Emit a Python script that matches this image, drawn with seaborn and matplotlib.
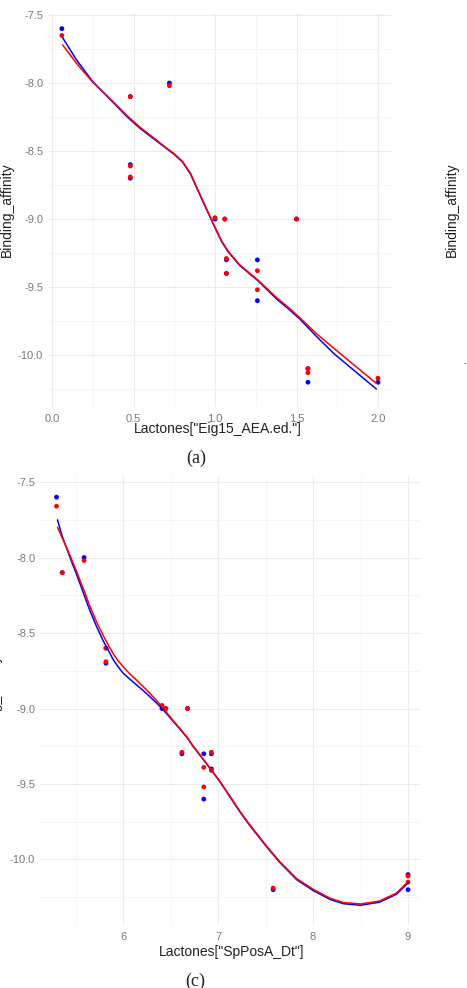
import pandas as pd
import matplotlib
matplotlib.use("Agg")
import matplotlib.pyplot as plt
from matplotlib.ticker import MultipleLocator, FormatStrFormatter
import seaborn as sns

# panel (a): Lactones["Eig15_AEA.ed."]
eig_x = [0.06, 0.48, 0.48, 0.48, 0.72, 1.0, 1.06, 1.07, 1.07, 1.26, 1.26, 1.5, 1.57, 1.57, 2.0]
eig_blue = [-7.6, -8.1, -8.6, -8.7, -8.0, -9.0, -9.0, -9.3, -9.4, -9.3, -9.6, -9.0, -10.1, -10.2, -10.2]
eig_red = [-7.65, -8.1, -8.61, -8.69, -8.02, -8.99, -9.0, -9.29, -9.4, -9.38, -9.52, -9.0, -10.1, -10.13, -10.17]
# smoothed curves
eig_fit_x = [0.065, 0.15, 0.25, 0.36, 0.46, 0.54, 0.62, 0.7, 0.75, 0.8, 0.85, 0.91, 0.95, 1.0, 1.04,
             1.08, 1.15, 1.2, 1.26, 1.38, 1.45, 1.52, 1.62, 1.73, 1.86, 1.99]
eig_fit_blue = [-7.667, -7.83, -7.99, -8.125, -8.248, -8.333, -8.407, -8.48, -8.525, -8.58, -8.67, -8.83,
                -8.934, -9.065, -9.165, -9.24, -9.34, -9.39, -9.45, -9.59, -9.66, -9.735, -9.86, -9.99,
                -10.12, -10.25]
eig_fit_red = [-7.72, -7.855, -7.995, -8.12, -8.24, -8.325, -8.4, -8.476, -8.52, -8.575, -8.665, -8.825,
               -8.93, -9.06, -9.16, -9.235, -9.335, -9.385, -9.445, -9.58, -9.65, -9.725, -9.84, -9.951,
               -10.08, -10.208]

# panel (c): Lactones["SpPosA_Dt"]
sp_x = [5.3, 5.36, 5.59, 5.82, 5.82, 6.41, 6.45, 6.62, 6.68, 6.85, 6.85, 6.93, 6.93, 7.58, 9.0, 9.0]
sp_blue = [-7.6, -8.1, -8.0, -8.6, -8.7, -9.0, -9.0, -9.3, -9.0, -9.3, -9.6, -9.3, -9.4, -10.2, -10.1, -10.2]
sp_red = [-7.66, -8.1, -8.02, -8.6, -8.69, -8.98, -9.0, -9.29, -9.0, -9.39, -9.52, -9.29, -9.41, -10.19, -10.11, -10.15]
sp_fit_x = [5.31, 5.36, 5.41, 5.46, 5.51, 5.58, 5.65, 5.72, 5.79, 5.85, 5.9, 5.95, 6.0, 6.07, 6.14,
            6.21, 6.28, 6.35, 6.41, 6.47, 6.53, 6.6, 6.67, 6.74, 6.81, 6.92, 7.02, 7.13, 7.23, 7.34,
            7.51, 7.65, 7.83, 8.0, 8.18, 8.32, 8.5, 8.7, 8.88, 9.0]
sp_fit_blue = [-7.75, -7.86, -7.945, -8.03, -8.11, -8.23, -8.35, -8.455, -8.55, -8.62, -8.68, -8.725,
               -8.765, -8.805, -8.843, -8.88, -8.92, -8.962, -9.0, -9.042, -9.087, -9.137, -9.19, -9.253,
               -9.31, -9.4, -9.485, -9.59, -9.685, -9.78, -9.915, -10.02, -10.135, -10.205, -10.265,
               -10.293, -10.303, -10.283, -10.23, -10.155]
sp_fit_red = [-7.8, -7.87, -7.94, -8.015, -8.09, -8.205, -8.32, -8.425, -8.515, -8.585, -8.64, -8.685,
              -8.722, -8.77, -8.81, -8.853, -8.898, -8.945, -8.988, -9.035, -9.082, -9.133, -9.187, -9.25,
              -9.307, -9.398, -9.482, -9.585, -9.68, -9.775, -9.91, -10.015, -10.128, -10.197, -10.257,
              -10.285, -10.295, -10.275, -10.222, -10.147]

pal = {"blue": "#0000ff", "red": "#ff0000"}

sns.set_theme(style="whitegrid")
plt.rcParams["font.family"] = ["Liberation Sans", "DejaVu Sans"]
plt.rcParams["axes.unicode_minus"] = False

fig = plt.figure(figsize=(4.67, 9.88), dpi=100)
W, H = 467, 988


def add_ax(l, t, r, b):
    return fig.add_axes([l / W, 1 - b / H, (r - l) / W, (b - t) / H])


def draw(ax, x, yb, yr, fx, fb, fr):
    n = len(x)
    pts = pd.DataFrame({"x": x + x, "y": yb + yr, "s": ["blue"] * n + ["red"] * n})
    m = len(fx)
    fit = pd.DataFrame({"x": fx + fx, "y": fb + fr, "s": ["blue"] * m + ["red"] * m})
    sns.scatterplot(data=pts, x="x", y="y", hue="s", palette=pal, s=12, linewidth=0,
                    legend=False, ax=ax, zorder=3)
    sns.lineplot(data=fit, x="x", y="y", hue="s", palette=pal, linewidth=1.1,
                 estimator=None, legend=False, ax=ax, zorder=4)
    ax.set_facecolor("white")
    for s in ax.spines.values():
        s.set_visible(False)
    ax.grid(True, which="major", color="#ebebeb", linewidth=0.8)
    ax.grid(True, which="minor", color="#f4f4f4", linewidth=0.6)
    ax.yaxis.set_major_locator(MultipleLocator(0.5))
    ax.yaxis.set_minor_locator(MultipleLocator(0.25))
    ax.yaxis.set_major_formatter(FormatStrFormatter("%.1f"))
    ax.tick_params(which="both", length=0, labelsize=8, labelcolor="#7a7a7a")
    ax.tick_params(axis="x", pad=5)
    ax.tick_params(axis="y", pad=3.5)
    ax.set_ylabel("Binding_affinity", fontsize=10, color="#222222")


# (a)
ax1 = add_ax(48, 13, 392, 407)
draw(ax1, eig_x, eig_blue, eig_red, eig_fit_x, eig_fit_blue, eig_fit_red)
ax1.set_xlim(-0.025, 2.086)
ax1.set_ylim(-10.382, -7.485)
ax1.xaxis.set_major_locator(MultipleLocator(0.5))
ax1.xaxis.set_minor_locator(MultipleLocator(0.25))
ax1.xaxis.set_major_formatter(FormatStrFormatter("%.1f"))
ax1.set_xlabel('Lactones["Eig15_AEA.ed."]', fontsize=10, color="#222222")
ax1.xaxis.set_label_coords(0.494, -0.038)
ax1.yaxis.set_label_coords(-0.099, 0.5)

# (c)
ax2 = add_ax(40, 476, 420, 925)
draw(ax2, sp_x, sp_blue, sp_red, sp_fit_x, sp_fit_blue, sp_fit_red)
ax2.set_xlim(5.126, 9.126)
ax2.set_ylim(-10.434, -7.46)
ax2.xaxis.set_major_locator(MultipleLocator(1))
ax2.xaxis.set_minor_locator(MultipleLocator(0.5))
ax2.xaxis.set_major_formatter(FormatStrFormatter("%d"))
ax2.set_xlabel('Lactones["SpPosA_Dt"]', fontsize=10, color="#222222")
ax2.xaxis.set_label_coords(0.505, -0.044)
ax2.yaxis.set_label_coords(-0.1, 0.5)

# neighbouring panel, cut off at the right edge as in the source figure
fig.text(452 / W, 1 - 210 / H, "Binding_affinity", rotation=90, ha="center", va="center",
         fontsize=10, color="#222222")
fig.text(463 / W, 1 - 363 / H, "-10.0", ha="left", va="center", fontsize=8, color="#7a7a7a")

# captions
fig.text(196 / W, 1 - 458 / H, "(a)", ha="center", va="center", fontsize=13,
         family=["Liberation Serif", "DejaVu Serif"], color="#222222")
fig.text(195 / W, 1 - 981 / H, "(c)", ha="center", va="center", fontsize=13,
         family=["Liberation Serif", "DejaVu Serif"], color="#222222")

fig.savefig("out.png", dpi=100, facecolor="white")
